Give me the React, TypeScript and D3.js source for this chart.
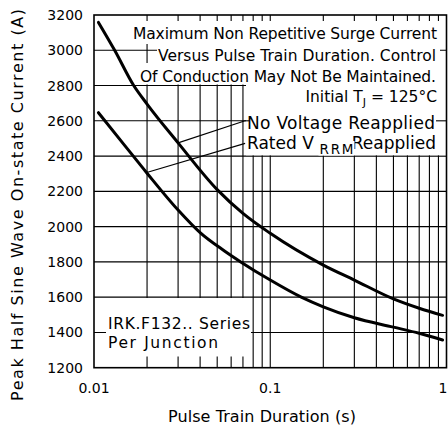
import React from 'react';
import * as d3 from 'd3';

// ---- data ----
const gridX = [0.02, 0.03, 0.04, 0.05, 0.06, 0.07, 0.08, 0.09, 0.1, 0.2, 0.3, 0.4, 0.5, 0.6, 0.7, 0.8, 0.9];
const yTicks = [1200, 1400, 1600, 1800, 2000, 2200, 2400, 2600, 2800, 3000, 3200];
const xTickLabels = [0.01, 0.1, 1];
const xTickText = ['0.01', '0.1', '1'];

// No Voltage Reapplied
const noVoltT = [0.0106, 0.0131, 0.0168, 0.02, 0.03, 0.05, 0.07, 0.1, 0.2, 0.3, 0.5, 0.7, 0.95];
const noVoltI = [3158, 3000, 2800, 2695, 2475, 2210, 2075, 1962, 1782, 1697, 1590, 1537, 1497];

// Rated VRRM Reapplied
const ratedT = [0.0106, 0.015, 0.02, 0.03, 0.04, 0.055, 0.068, 0.1, 0.15, 0.2, 0.3, 0.5, 0.7, 0.95];
const ratedI = [2646, 2458, 2303, 2094, 1966, 1862, 1800, 1697, 1600, 1545, 1483, 1430, 1395, 1357];

const FONT = '"DejaVu Sans", sans-serif';

export default function App() {
  const W = 448, H = 430;
  const left = 94, right = 446.5, top = 15, bottom = 367.7;
  const x = d3.scaleLog().domain([0.01, 1]).range([left, right]);
  const y = d3.scaleLinear().domain([1200, 3200]).range([bottom, top]);
  const line = d3.line<[number, number]>()
    .x(d => x(d[0]))
    .y(d => y(d[1]))
    .curve(d3.curveMonotoneX);
  const upper = line(noVoltT.map((t, i) => [t, noVoltI[i]] as [number, number])) || '';
  const lower = line(ratedT.map((t, i) => [t, ratedI[i]] as [number, number])) || '';

  return (
    <svg width={W} height={H} style={{ position: 'absolute', left: 0, top: 0, background: '#fff' }}
      fontFamily={FONT}>
      <rect x={0} y={0} width={W} height={H} fill="#fff" />
      {/* grid */}
      {gridX.map(v => (
        <line key={'gx' + v} x1={x(v)} x2={x(v)} y1={top} y2={bottom} stroke="#000" strokeWidth={1.1} />
      ))}
      {yTicks.slice(1, -1).map(v => (
        <line key={'gy' + v} x1={left} x2={right} y1={y(v)} y2={y(v)} stroke="#000" strokeWidth={1.1} />
      ))}
      {/* curves */}
      <path d={upper} fill="none" stroke="#000" strokeWidth={3} strokeLinejoin="round" strokeLinecap="round" />
      <path d={lower} fill="none" stroke="#000" strokeWidth={3} strokeLinejoin="round" strokeLinecap="round" />

      {/* top annotation backgrounds */}
      <rect x={128} y={21} width={right - 128} height={23} fill="#fff" />
      <rect x={157} y={44} width={440 - 157} height={19} fill="#fff" />
      <rect x={138} y={63} width={right - 138} height={21.5} fill="#fff" />
      <rect x={246} y={84} width={right - 246} height={71.3} fill="#fff" />
      {/* bottom-left box */}
      <rect x={106} y={298} width={145} height={58.5} fill="#fff" />

      {/* grid stubs at 2600 line beside legend */}
      <line x1={x(0.072)} x2={249} y1={y(2600)} y2={y(2600)} stroke="#000" strokeWidth={1.1} />
      <line x1={436} x2={right} y1={y(2600)} y2={y(2600)} stroke="#000" strokeWidth={1.1} />
      {/* leader lines */}
      <line x1={x(0.03)} y1={y(2475)} x2={x(0.072)} y2={y(2600)} stroke="#000" strokeWidth={1.1} />
      <line x1={x(0.0197)} y1={y(2306)} x2={x(0.072)} y2={y(2472)} stroke="#000" strokeWidth={1.1} />

      {/* frame */}
      <rect x={left} y={top} width={right - left} height={bottom - top} fill="none" stroke="#000" strokeWidth={1.6} />

      {/* annotation text */}
      <g fill="#000">
        <text x={133} y={39} fontSize={15.5} textLength={304}>Maximum Non Repetitive Surge Current</text>
        <text x={158} y={61} fontSize={15.5} textLength={278}>Versus Pulse Train Duration. Control</text>
        <text x={140} y={81.5} fontSize={15.5} textLength={296}>Of Conduction May Not Be Maintained.</text>
        <text x={437} y={102} fontSize={15.5} textAnchor="end">
          Initial T<tspan fontSize={11} dy={4}>J</tspan><tspan dy={-4}>{'  =  125°C'}</tspan>
        </text>
        <text x={247} y={128.5} fontSize={17} textLength={188}>No Voltage Reapplied</text>
        <text x={247} y={148.5} fontSize={17}>Rated V</text>
        <text x={436} y={148.5} fontSize={17} textAnchor="end">Reapplied</text>
        <rect x={318.5} y={141} width={36} height={14.5} fill="#fff" />
        <text x={319.5} y={154} fontSize={13.5} textLength={34}>RRM</text>
        <text x={108} y={329} fontSize={15.5} textLength={142}>IRK.F132.. Series</text>
        <text x={108} y={348} fontSize={15.5} textLength={110}>Per Junction</text>
      </g>

      {/* y tick labels */}
      {yTicks.map(v => (
        <text key={'yl' + v} x={83} y={y(v)} dy="0.36em" fontSize={14} textAnchor="end">{v}</text>
      ))}
      {/* x tick labels */}
      {xTickLabels.map((v, i) => (
        <text key={'xl' + v} x={i === xTickLabels.length - 1 ? x(v) + 1 : x(v)} y={392.5} fontSize={14}
          textAnchor={i === xTickLabels.length - 1 ? 'end' : 'middle'}>{xTickText[i]}</text>
      ))}
      {/* axis titles */}
      <text x={262} y={422} fontSize={16} textAnchor="middle" textLength={188}>Pulse Train Duration (s)</text>
      <text transform="translate(23,205) rotate(-90)" fontSize={16} textAnchor="middle" textLength={392}>
        Peak Half Sine Wave On-state Current (A)
      </text>
    </svg>
  );
}
